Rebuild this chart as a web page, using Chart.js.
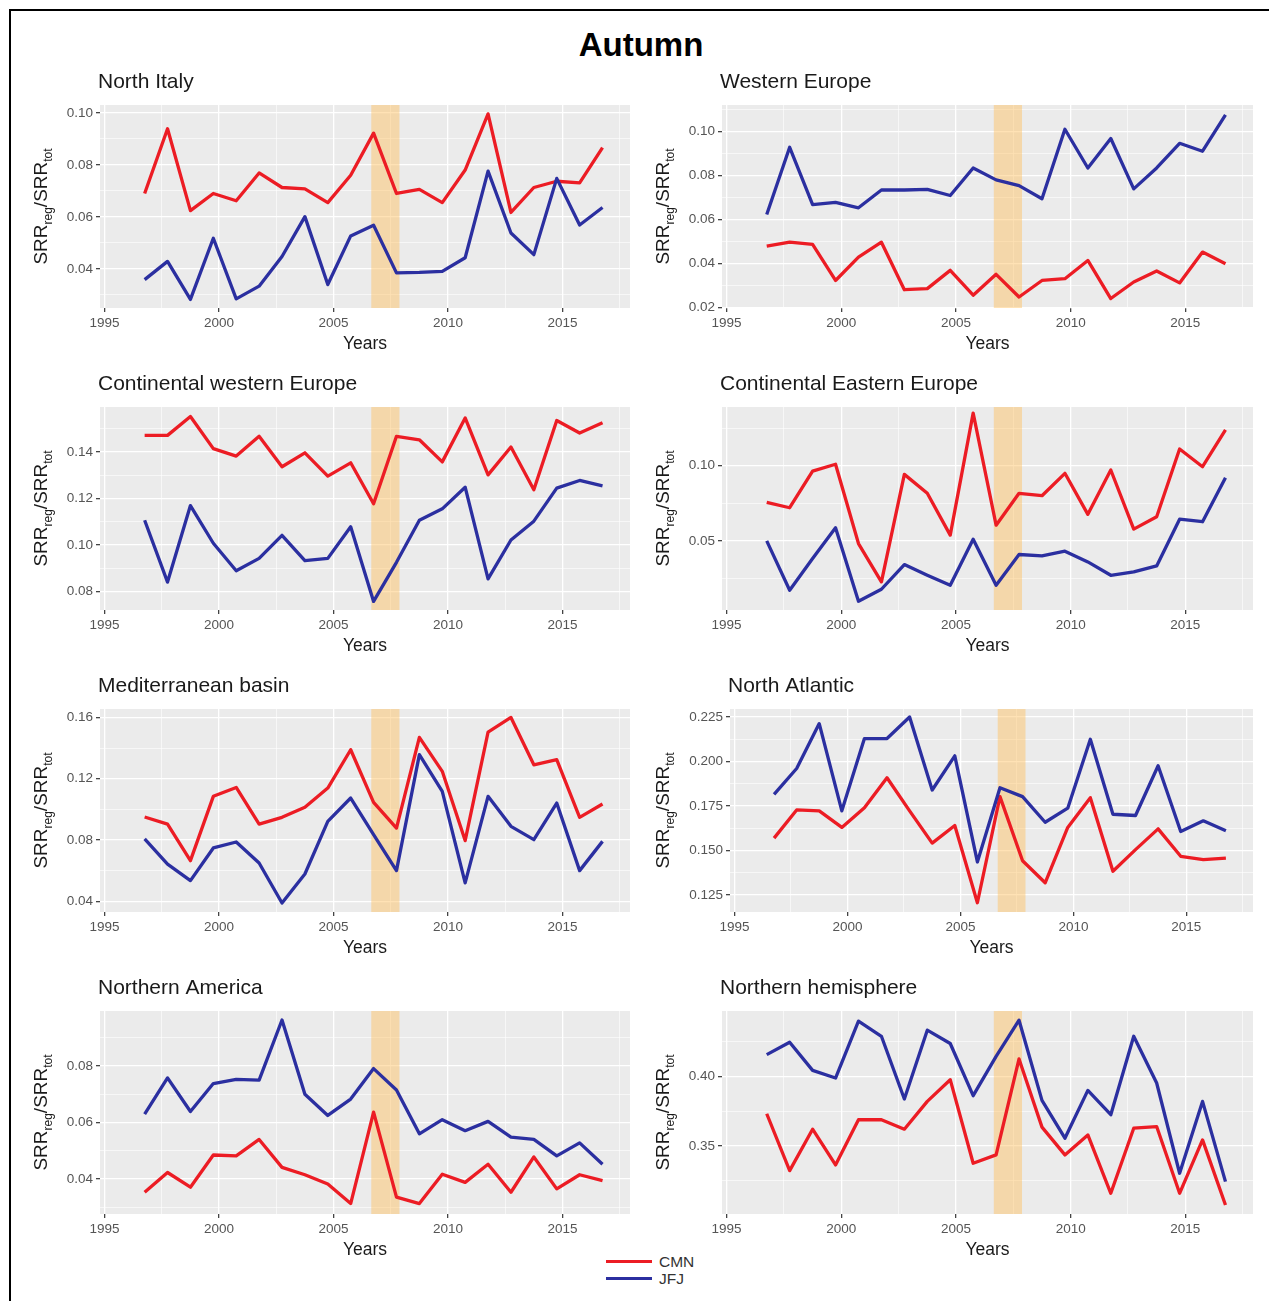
<!DOCTYPE html>
<html>
<head>
<meta charset="utf-8">
<script src="https://cdn.jsdelivr.net/npm/chart.js"></script>
<style>
  body { margin: 0; background: #fff; width: 1269px; height: 1301px; overflow: hidden; position: relative;
         font-family: "Liberation Sans", Arial, sans-serif; }
  #frame { position: absolute; left: 9px; top: 9px; width: 1400px; height: 1400px;
           border-left: 2px solid #000; border-top: 2px solid #000; }
  #title { position: absolute; left: 541px; width: 200px; top: 28px; line-height: 34px;
           text-align: center; font-size: 33px; font-weight: bold; color: #000; }
  canvas { position: absolute; }
  .key { position: absolute; height: 3px; width: 46px; left: 606px; }
  .keytxt { position: absolute; left: 659px; font-size: 15.5px; line-height: 16px; color: #333; }
</style>
</head>
<body>
<div id="frame"></div>
<div id="title">Autumn</div>
<div class="key" style="top:1260px;background:#ec1c24"></div>
<div class="keytxt" style="top:1254px">CMN</div>
<div class="key" style="top:1277px;background:#2b2fa0"></div>
<div class="keytxt" style="top:1271px">JFJ</div>

<script>
// autumn seasons, plotted at mid-October of each year
const years = [1996, 1997, 1998, 1999, 2000, 2001, 2002, 2003, 2004, 2005, 2006,
               2007, 2008, 2009, 2010, 2011, 2012, 2013, 2014, 2015, 2016];
const seasonPos = 0.75;
const xTickLabels = ['1995', '2000', '2005', '2010', '2015'];
const xRange = [1994.8, 2017.95];
const shadedPeriod = [2006.65, 2007.88];

const northItalyCMN = [0.069, 0.0939, 0.0624, 0.069, 0.0662, 0.0769, 0.0713, 0.0708, 0.0655, 0.076, 0.0922,
                       0.069, 0.0706, 0.0655, 0.078, 0.0996, 0.0617, 0.0713, 0.0737, 0.0731, 0.0866];
const northItalyJFJ = [0.0359, 0.0429, 0.0283, 0.0518, 0.0285, 0.0334, 0.0448, 0.0601, 0.034, 0.0527, 0.0568,
                       0.0385, 0.0387, 0.0391, 0.0443, 0.0776, 0.0538, 0.0455, 0.0748, 0.0569, 0.0636];
const northItalyTicks = ['0.04', '0.06', '0.08', '0.10'];

const westernEuropeCMN = [0.0479, 0.0497, 0.0487, 0.0323, 0.0429, 0.0497, 0.0281, 0.0286, 0.0369, 0.0256, 0.0351,
                          0.0248, 0.0323, 0.0331, 0.0414, 0.0241, 0.0316, 0.0366, 0.0312, 0.0452, 0.0399];
const westernEuropeJFJ = [0.0623, 0.0928, 0.0668, 0.0678, 0.0653, 0.0734, 0.0734, 0.0737, 0.0709, 0.0834, 0.078,
                          0.0754, 0.0694, 0.101, 0.0834, 0.0968, 0.0739, 0.0834, 0.0946, 0.091, 0.1075];
const westernEuropeTicks = ['0.02', '0.04', '0.06', '0.08', '0.10'];

const contWesternCMN = [0.1471, 0.1471, 0.1552, 0.1414, 0.1382, 0.1467, 0.1336, 0.1396, 0.1296, 0.1353, 0.1177,
                        0.1467, 0.1452, 0.1357, 0.1546, 0.1301, 0.1421, 0.1237, 0.1535, 0.1481, 0.1525];
const contWesternJFJ = [0.1106, 0.084, 0.1169, 0.1007, 0.0889, 0.0942, 0.1041, 0.0932, 0.0942, 0.1078, 0.0757,
                        0.0925, 0.1106, 0.1155, 0.1248, 0.0854, 0.1021, 0.1102, 0.1244, 0.1277, 0.1254];
const contWesternTicks = ['0.08', '0.10', '0.12', '0.14'];

const contEasternCMN = [0.0756, 0.072, 0.0964, 0.1009, 0.0482, 0.0227, 0.0942, 0.0816, 0.0538, 0.1349, 0.0604,
                        0.0816, 0.08, 0.0949, 0.0676, 0.0971, 0.0578, 0.066, 0.1111, 0.0993, 0.1238];
const contEasternJFJ = [0.05, 0.0171, 0.0382, 0.0587, 0.0098, 0.0178, 0.0342, 0.0271, 0.0204, 0.0511, 0.0204,
                        0.0409, 0.04, 0.0431, 0.036, 0.0271, 0.0293, 0.0333, 0.0644, 0.0627, 0.092];
const contEasternTicks = ['0.05', '0.10'];

const mediterraneanCMN = [0.095, 0.0904, 0.0665, 0.1085, 0.1143, 0.0904, 0.0948, 0.1013, 0.1139, 0.1389, 0.1046,
                          0.0878, 0.147, 0.1248, 0.0796, 0.1504, 0.16, 0.1291, 0.1324, 0.0948, 0.1035];
const mediterraneanJFJ = [0.0807, 0.0643, 0.0535, 0.0748, 0.0787, 0.065, 0.0389, 0.0578, 0.0922, 0.1074, 0.0835,
                          0.06, 0.1357, 0.1117, 0.052, 0.1085, 0.0889, 0.0802, 0.1041, 0.06, 0.0791];
const mediterraneanTicks = ['0.04', '0.08', '0.12', '0.16'];

const northAtlanticCMN = [0.157, 0.1728, 0.1723, 0.163, 0.1741, 0.1909, 0.1723, 0.1542, 0.1641, 0.1207, 0.1803,
                          0.1443, 0.1319, 0.163, 0.1797, 0.1384, 0.1505, 0.1622, 0.1468, 0.1449, 0.1458];
const northAtlanticJFJ = [0.1816, 0.1961, 0.2213, 0.1723, 0.2129, 0.2129, 0.225, 0.184, 0.2032, 0.1436, 0.1853,
                          0.1803, 0.1659, 0.1738, 0.2125, 0.1704, 0.1697, 0.1976, 0.1607, 0.1667, 0.1611];
const northAtlanticTicks = ['0.125', '0.150', '0.175', '0.200', '0.225'];

const northAmericaCMN = [0.0353, 0.0423, 0.0371, 0.0485, 0.0482, 0.054, 0.0441, 0.0415, 0.0382, 0.0313, 0.0637,
                         0.0336, 0.0313, 0.0417, 0.0388, 0.0452, 0.0353, 0.0478, 0.0365, 0.0415, 0.0394];
const northAmericaJFJ = [0.063, 0.0758, 0.0639, 0.0738, 0.0753, 0.075, 0.0963, 0.07, 0.0625, 0.0683, 0.0791,
                         0.0715, 0.056, 0.061, 0.0571, 0.0604, 0.0548, 0.054, 0.0482, 0.0528, 0.0452];
const northAmericaTicks = ['0.04', '0.06', '0.08'];

const hemisphereCMN = [0.3731, 0.3322, 0.362, 0.3363, 0.3688, 0.3688, 0.362, 0.382, 0.3976, 0.3375, 0.3435,
                       0.4125, 0.3635, 0.3435, 0.3579, 0.3159, 0.3627, 0.3639, 0.3159, 0.3543, 0.3075];
const hemisphereJFJ = [0.4156, 0.4245, 0.4043, 0.3988, 0.4397, 0.4288, 0.3837, 0.4332, 0.4236, 0.3861, 0.4144,
                       0.4404, 0.3827, 0.3555, 0.3899, 0.3724, 0.4288, 0.3952, 0.3303, 0.382, 0.3243];
const hemisphereTicks = ['0.35', '0.40'];

const panels = [
  { title: 'North Italy', cmn: northItalyCMN, jfj: northItalyJFJ, ticks: northItalyTicks, range: [0.025, 0.103], col: 0, row: 0 },
  { title: 'Western Europe', cmn: westernEuropeCMN, jfj: westernEuropeJFJ, ticks: westernEuropeTicks, range: [0.0198, 0.112], col: 1, row: 0 },
  { title: 'Continental western Europe', cmn: contWesternCMN, jfj: contWesternJFJ, ticks: contWesternTicks, range: [0.072, 0.1593], col: 0, row: 1 },
  { title: 'Continental Eastern Europe', cmn: contEasternCMN, jfj: contEasternJFJ, ticks: contEasternTicks, range: [0.004, 0.139], col: 1, row: 1 },
  { title: 'Mediterranean basin', cmn: mediterraneanCMN, jfj: mediterraneanJFJ, ticks: mediterraneanTicks, range: [0.033, 0.1655], col: 0, row: 2 },
  { title: 'North Atlantic', cmn: northAtlanticCMN, jfj: northAtlanticJFJ, ticks: northAtlanticTicks, range: [0.1155, 0.2295], col: 1, row: 2 },
  { title: 'Northern America', cmn: northAmericaCMN, jfj: northAmericaJFJ, ticks: northAmericaTicks, range: [0.0276, 0.0995], col: 0, row: 3 },
  { title: 'Northern hemisphere', cmn: hemisphereCMN, jfj: hemisphereJFJ, ticks: hemisphereTicks, range: [0.301, 0.447], col: 1, row: 3 }
];

// layout (px)
const canvasLeft = [15, 637];
const plotRight = [630, 1253];
const rowTop = [105, 407, 709, 1011];
const PLOT_H = 203, PAD_T = 40, PAD_R = 8, X_H = 50;
const FONT = '"Liberation Sans", Arial, sans-serif';

Chart.defaults.font.family = FONT;

// major breaks with labels + ggplot-style minor breaks halfway between
function tickSet(labels, lo, hi) {
  const major = labels.map(Number);
  const step = major[1] - major[0];
  const out = major.map((v, i) => ({ value: v, mj: true, txt: labels[i] }));
  for (let k = -1; k < major.length; k++) {
    const v = major[0] + (k + 0.5) * step;
    if (v > lo && v < hi) out.push({ value: v, mj: false, txt: '' });
  }
  return out.sort((a, b) => a.value - b.value);
}

const gridOpts = {
  color: '#ffffff',
  lineWidth: c => (c.tick && c.tick.mj ? 1.3 : 0.6),
  tickColor: c => (c.tick && c.tick.mj ? '#444' : 'rgba(0,0,0,0)'),
  tickLength: 4
};

const panelDecor = {
  id: 'panelDecor',
  beforeDraw(chart) {
    const { ctx, chartArea: a } = chart;
    ctx.save();
    ctx.fillStyle = '#ebebeb';
    ctx.fillRect(a.left, a.top, a.right - a.left, a.bottom - a.top);
    ctx.restore();
  },
  beforeDatasetsDraw(chart) {
    const { ctx, chartArea: a, scales } = chart;
    const x0 = scales.x.getPixelForValue(shadedPeriod[0]);
    const x1 = scales.x.getPixelForValue(shadedPeriod[1]);
    ctx.save();
    ctx.fillStyle = 'rgba(255,190,90,0.45)';
    ctx.fillRect(x0, a.top, x1 - x0, a.bottom - a.top);
    ctx.restore();
  },
  afterDraw(chart, args, opts) {
    const { ctx, chartArea: a } = chart;
    ctx.save();
    ctx.fillStyle = '#1a1a1a';
    ctx.textBaseline = 'middle';
    ctx.textAlign = 'left';
    ctx.font = '21px ' + FONT;
    ctx.fillText(opts.title, a.left - 2, a.top - 23);
    ctx.textAlign = 'center';
    ctx.font = '17.5px ' + FONT;
    ctx.fillText('Years', (a.left + a.right) / 2, a.bottom + 36);

    // SRR_reg / SRR_tot, rotated
    const parts = [['SRR', 19, 0], ['reg', 12, 5], ['/', 19, 0], ['SRR', 19, 0], ['tot', 12, 5]];
    ctx.translate(25, (a.top + a.bottom) / 2);
    ctx.rotate(-Math.PI / 2);
    let total = 0;
    parts.forEach(([t, s]) => { ctx.font = s + 'px ' + FONT; total += ctx.measureText(t).width; });
    let x = -total / 2;
    ctx.textAlign = 'left';
    ctx.textBaseline = 'alphabetic';
    parts.forEach(([t, s, dy]) => {
      ctx.font = s + 'px ' + FONT;
      ctx.fillText(t, x, 7 + dy);
      x += ctx.measureText(t).width;
    });
    ctx.restore();
  }
};

panels.forEach(p => {
  const yw = p.ticks[0].length > 4 ? 93 : 85;
  const left = canvasLeft[p.col];
  const cv = document.createElement('canvas');
  cv.width = plotRight[p.col] + PAD_R - left;
  cv.height = PAD_T + PLOT_H + X_H;
  cv.style.left = left + 'px';
  cv.style.top = (rowTop[p.row] - PAD_T) + 'px';
  document.body.appendChild(cv);

  new Chart(cv, {
    type: 'line',
    data: {
      datasets: [
        { label: 'CMN', data: years.map((yr, i) => ({ x: yr + seasonPos, y: p.cmn[i] })),
          borderColor: '#ec1c24', order: 1 },
        { label: 'JFJ', data: years.map((yr, i) => ({ x: yr + seasonPos, y: p.jfj[i] })),
          borderColor: '#2b2fa0', order: 0 }
      ]
    },
    options: {
      responsive: false,
      animation: false,
      devicePixelRatio: 1,
      layout: { padding: { left: 0, right: PAD_R, top: PAD_T, bottom: 0 } },
      elements: {
        line: { borderWidth: 3.3, tension: 0, borderJoinStyle: 'round', fill: false },
        point: { radius: 0, hoverRadius: 0 }
      },
      plugins: { legend: { display: false }, tooltip: { enabled: false }, panelDecor: { title: p.title } },
      scales: {
        x: {
          type: 'linear', min: xRange[0], max: xRange[1],
          afterBuildTicks: s => { s.ticks = tickSet(xTickLabels, xRange[0], xRange[1]); },
          afterFit: s => { s.height = X_H; },
          grid: gridOpts,
          border: { display: false },
          ticks: { callback: (v, i, t) => t[i].txt, color: '#555', font: { size: 13.5 }, padding: 3,
                   autoSkip: false, maxRotation: 0, minRotation: 0 }
        },
        y: {
          type: 'linear', min: p.range[0], max: p.range[1],
          afterBuildTicks: s => { s.ticks = tickSet(p.ticks, p.range[0], p.range[1]); },
          afterFit: s => { s.width = yw; },
          grid: gridOpts,
          border: { display: false },
          ticks: { callback: (v, i, t) => t[i].txt, color: '#555', font: { size: 13.5 }, padding: 3, autoSkip: false }
        }
      }
    },
    plugins: [panelDecor]
  });
});
</script>
</body>
</html>
